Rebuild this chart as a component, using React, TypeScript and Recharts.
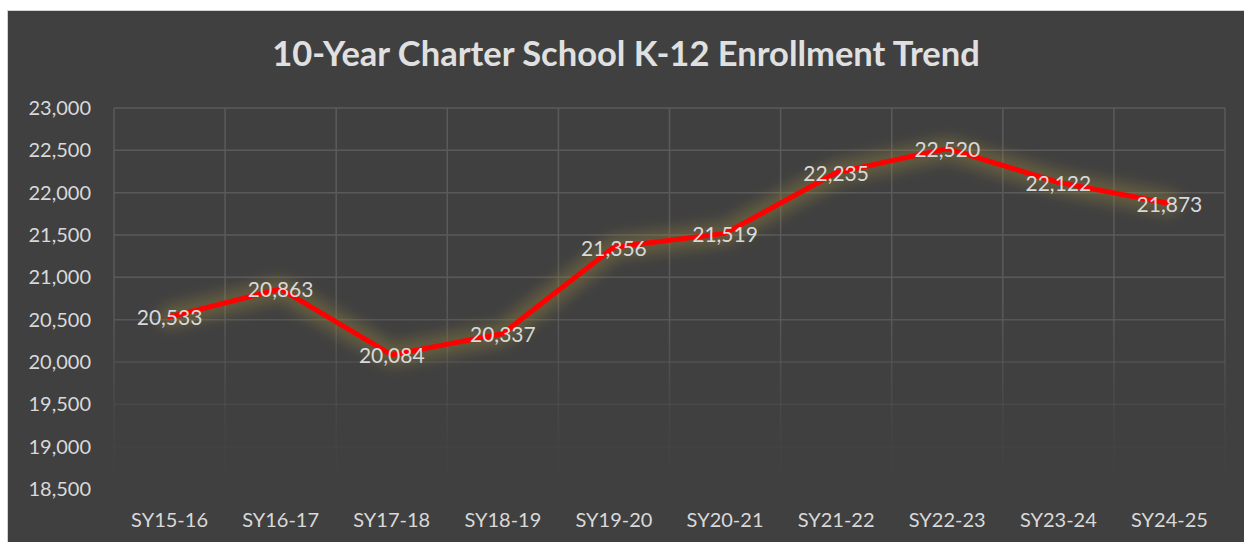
import { LineChart, Line, XAxis, YAxis, CartesianGrid, LabelList } from 'recharts';

const years = ['SY15-16', 'SY16-17', 'SY17-18', 'SY18-19', 'SY19-20', 'SY20-21', 'SY21-22', 'SY22-23', 'SY23-24', 'SY24-25'];
const enrollment = [20533, 20863, 20084, 20337, 21356, 21519, 22235, 22520, 22122, 21873];
const yTicks = [18500, 19000, 19500, 20000, 20500, 21000, 21500, 22000, 22500, 23000];

const data = years.map((year, i) => ({ year, enrollment: enrollment[i] }));

const font = 'Lato, "Open Sans", sans-serif';
const textColor = '#d9d9d9';
const fmt = (v: number) => v.toLocaleString('en-US');

// grid lines sit between categories, like Excel's "between tick marks"
const boundaries = (props: any) => {
  const { offset } = props;
  return Array.from({ length: years.length + 1 }, (_, i) => offset.left + (i * offset.width) / years.length);
};

const ValueLabel = (props: any) => {
  const { x, y, value } = props;
  return (
    <text x={x} y={y} textAnchor="middle" dominantBaseline="central" fill={textColor} fontSize={21} fontFamily={font}>
      {fmt(value)}
    </text>
  );
};

export default function App() {
  return (
    <div
      style={{
        position: 'fixed',
        left: 7,
        top: 10,
        width: 1237,
        height: 532,
        background: '#404040',
        borderLeft: '1px solid #d0d0d0',
        borderTop: '1px solid #d0d0d0',
        boxSizing: 'border-box',
      }}
    >
      <div
        style={{
          position: 'absolute',
          top: 21,
          left: 0,
          width: '100%',
          textAlign: 'center',
          color: '#e0e0e0',
          fontFamily: font,
          fontWeight: 700,
          fontSize: 34.5,
        }}
      >
        10-Year Charter School K-12 Enrollment Trend
      </div>
      <LineChart width={1236} height={531} data={data} margin={{ top: 97, right: 19, bottom: 23, left: 0 }}>
        <defs>
          <linearGradient id="gridFade" gradientUnits="userSpaceOnUse" x1="0" y1="97" x2="0" y2="478">
            <stop offset="0%" stopColor="#5a5a5a" stopOpacity={1} />
            <stop offset="50%" stopColor="#5a5a5a" stopOpacity={1} />
            <stop offset="85%" stopColor="#5a5a5a" stopOpacity={0.15} />
            <stop offset="100%" stopColor="#5a5a5a" stopOpacity={0} />
          </linearGradient>
          <filter id="glowBlur" x="-10%" y="-50%" width="120%" height="200%">
            <feGaussianBlur stdDeviation="7" />
          </filter>
        </defs>
        <CartesianGrid stroke="url(#gridFade)" strokeWidth={1.5} verticalCoordinatesGenerator={boundaries} />
        <XAxis
          dataKey="year"
          scale="band"
          axisLine={false}
          tickLine={false}
          tickMargin={18}
          tick={{ fill: textColor, fontSize: 20, fontFamily: font }}
        />
        <YAxis
          domain={[18500, 23000]}
          ticks={yTicks}
          width={106}
          axisLine={false}
          tickLine={false}
          tickMargin={17}
          tickFormatter={fmt}
          tick={{ fill: textColor, fontSize: 20, fontFamily: font }}
        />
        <Line
          dataKey="enrollment"
          stroke="#9c8640"
          strokeOpacity={0.4}
          strokeWidth={22}
          strokeLinejoin="round"
          strokeLinecap="round"
          filter="url(#glowBlur)"
          dot={false}
          activeDot={false}
          isAnimationActive={false}
        />
        <Line
          dataKey="enrollment"
          stroke="#ff0000"
          strokeWidth={5}
          strokeLinejoin="round"
          strokeLinecap="round"
          dot={false}
          activeDot={false}
          isAnimationActive={false}
        >
          <LabelList dataKey="enrollment" content={ValueLabel} />
        </Line>
      </LineChart>
    </div>
  );
}
